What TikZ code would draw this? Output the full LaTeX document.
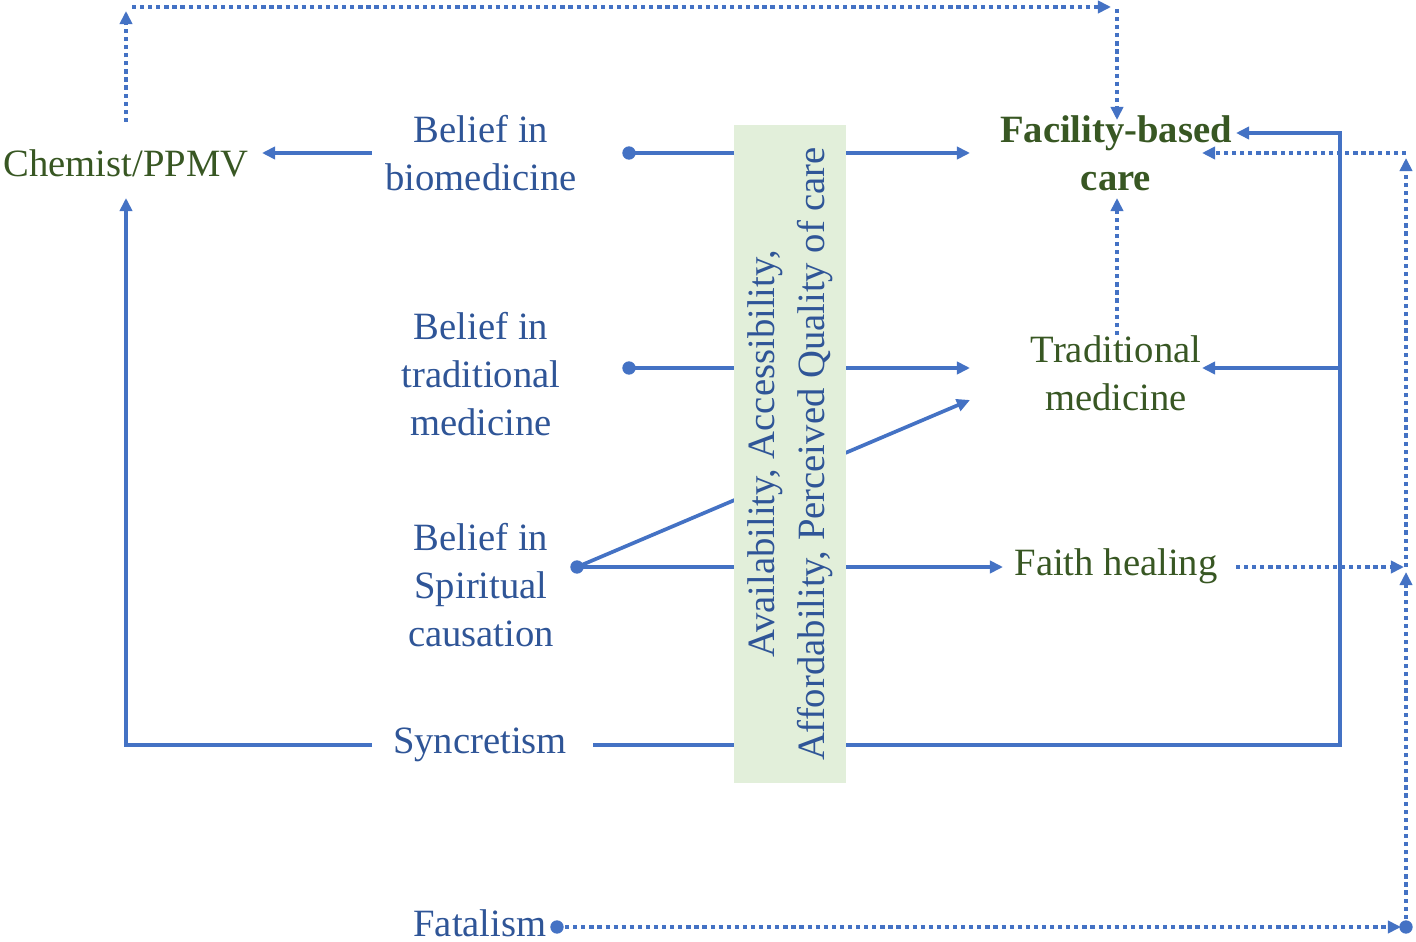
\documentclass[tikz,border=0pt]{standalone}
\usepackage{fontspec}
\setmainfont{Liberation Serif}
\usetikzlibrary{arrows.meta,calc}
\definecolor{lblue}{HTML}{4472C4}
\definecolor{tblue}{HTML}{2F5597}
\definecolor{tgreen}{HTML}{385723}
\definecolor{bgreen}{HTML}{E2EFDA}
\begin{document}
\begin{tikzpicture}[x=0.02cm,y=-0.02cm,
  lbl/.style={font=\fontsize{22}{27.2}\selectfont, align=center, inner sep=0pt},
  lt/.style={lbl, text=tblue},
  rt/.style={lbl, text=tgreen},
  conn/.style={draw=lblue, line width=2.1pt},
  dotl/.style={draw=lblue, line width=2.5pt, dash pattern=on 2.4pt off 2.2pt},
  tip/.style={-{Triangle[length=7.5pt,width=7pt]}},
  dot/.style={fill=lblue, draw=none},
]
\useasboundingbox (0,0) rectangle (1416,942);

% labels
\node[rt] (chem) at (126,163) {Chemist/PPMV};
\node[lt] (bio) at (481,153) {Belief in\\biomedicine};
\node[lt] (trad) at (481,374) {Belief in\\traditional\\medicine};
\node[lt] (spir) at (481,585) {Belief in\\Spiritual\\causation};
\node[lt] (sync) at (480,745) {Syncretism};
\node[lt] (fat) at (480,923) {Fatalism};
\node[rt, font=\fontsize{22}{27.2}\selectfont\bfseries] (fac) at (1116,153) {Facility-based\\care};
\node[rt] (tm) at (1116,373) {Traditional\\medicine};
\node[rt] (fh) at (1116,566) {Faith healing};

% named points
\coordinate (dbio) at (629,153);
\coordinate (dtrad) at (629,368);
\coordinate (dspir) at (577,567);
\coordinate (dfat) at (557,927);
\coordinate (dend) at (1406,927);
\coordinate (bioW) at (372,153);
\coordinate (chemE) at (262,153);
\coordinate (chemS) at (126,198);
\coordinate (chemN) at (126,122);
\coordinate (syncW) at (372,745);
\coordinate (syncE) at (593,745);
\coordinate (cornerL) at (126,745);
\coordinate (cornerR) at (1340,745);
\coordinate (cornerRT) at (1340,133);
\coordinate (jR) at (1340,368);
\coordinate (facE1) at (1236,133);
\coordinate (facE2) at (1202,153);
\coordinate (facW) at (970,153);
\coordinate (facS) at (1117,198);
\coordinate (tmW) at (970,368);
\coordinate (tmW2) at (970,400);
\coordinate (tmE) at (1202,368);
\coordinate (tmN) at (1117,335);
\coordinate (fhW) at (1003,567);
\coordinate (fhE) at (1236,567);
\coordinate (jD) at (1406,567);
\coordinate (jDT) at (1406,153);
\coordinate (topL) at (126,11);
\coordinate (topL2) at (132,7);
\coordinate (topR) at (1111,7);
\coordinate (topR2) at (1117,9);
\coordinate (facN) at (1117,120);

% solid connectors
\draw[conn,tip] (bioW) -- (chemE);
\draw[conn,tip] (dbio) -- (facW);
\draw[conn,tip] (dtrad) -- (tmW);
\draw[conn,tip] (dspir) -- (fhW);
\draw[conn,tip] (dspir) -- (tmW2);
\draw[conn,tip] (syncW) -- (cornerL) -- (chemS);
\draw[conn,tip] (syncE) -- (cornerR) -- (cornerRT) -- (facE1);
\draw[conn,tip] (jR) -- (tmE);
\fill[dot] (dbio) circle[radius=3.8pt];
\fill[dot] (dtrad) circle[radius=3.8pt];
\fill[dot] (dspir) circle[radius=3.8pt];

% dotted connectors
\draw[dotl,tip] (chemN) -- (topL);
\draw[dotl,tip] (topL2) -- (topR);
\draw[dotl,tip] (topR2) -- (facN);
\draw[dotl,tip] (tmN) -- (facS);
\draw[dotl,tip] (fhE) -- ($(jD)+(-2,0)$);
\draw[dotl,tip] (dfat) -- ($(dend)+(-5,0)$);
\draw[dotl,tip] (dend) -- ($(jD)+(0,5)$);
\draw[dotl,tip] (jD) -- ($(jDT)+(0,5)$);
\draw[dotl,tip] (jDT) -- (facE2);
\fill[dot] (dfat) circle[radius=3.8pt];
\fill[dot] (dend) circle[radius=3.8pt];

% green box
\node[fill=bgreen, rotate=90, minimum width=13.16cm, minimum height=2.24cm,
      inner sep=0pt, text=tblue, align=center,
      font=\fontsize{22}{28.3}\selectfont] (box) at (790,454)
  {Availability, Accessibility,\\Affordability, Perceived Quality of care};
\end{tikzpicture}
\end{document}
